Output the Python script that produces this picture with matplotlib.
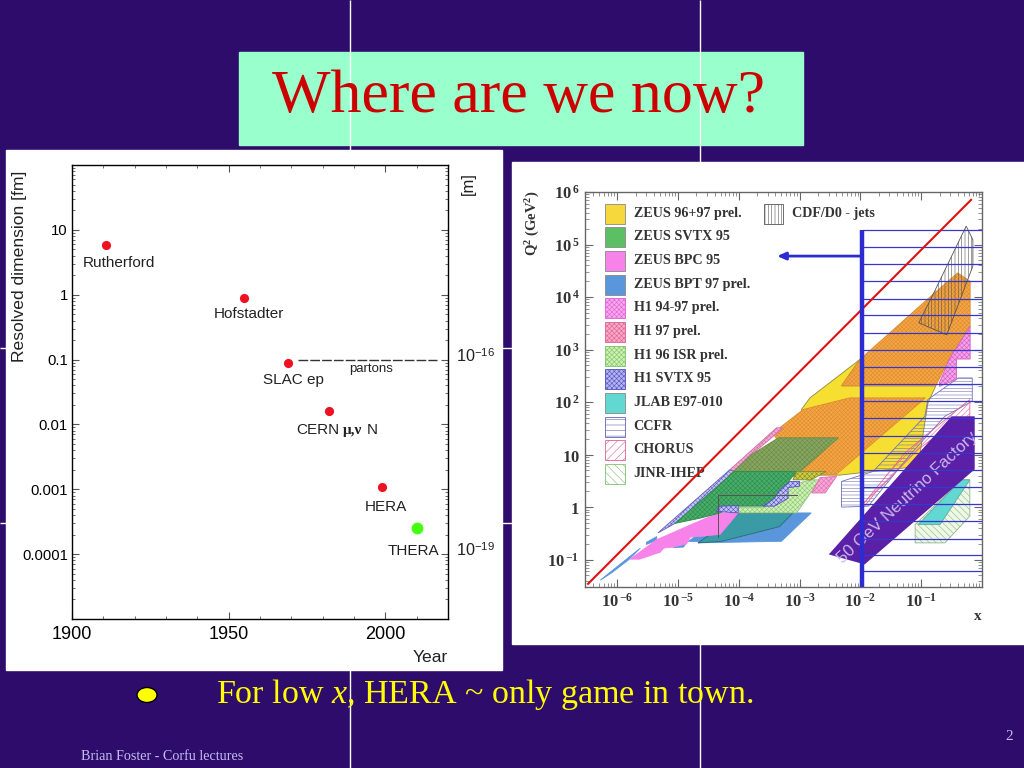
import numpy as np
from matplotlib import pyplot as plt
from matplotlib.patches import Rectangle, Ellipse

plt.rcParams['mathtext.fontset'] = 'custom'
plt.rcParams['mathtext.rm'] = 'Liberation Serif'
plt.rcParams['mathtext.it'] = 'Liberation Serif:italic'
plt.rcParams['mathtext.bf'] = 'Liberation Serif:bold'
plt.rcParams['hatch.linewidth'] = 0.4

# Left chart: resolved dimension against year
names = ['Rutherford', 'Hofstadter', 'SLAC ep', 'CERN', 'HERA', 'THERA']
years = [1911, 1955, 1969, 1982, 1999, 2010]
sizes_fm = [5.9, 0.9, 0.09, 0.016, 0.0011, 0.00025]
parton_years = [1972, 2016.5]
parton_size = [0.1, 0.1]
year_ticks = [1900, 1950, 2000]
fm_ticks = [0.0001, 0.001, 0.01, 0.1, 1, 10]
fm_labels = ['0.0001', '0.001', '0.01', '0.1', '1', '10']

# Right chart: kinematic regions, log10(x) and log10(Q2) of each outline
zeus9697_x = [-2.97, -2.83, -2.01, -2.31, -0.76, -0.89, -1.03, -1.25, -2.34, -2.94]
zeus9697_q = [1.86, 2.08, 2.81, 2.31, 2.31, 1.98, 0.94, 0.75, 0.61, 0.61]
orange_up_x = [-2.31, -2.01, -0.78, -0.40, -0.195, -0.195, -0.53, -0.76]
orange_up_q = [2.31, 2.81, 4.08, 4.46, 4.30, 3.44, 2.84, 2.31]
orange_low_x = [-3.44, -2.94, -2.18, -0.93, -2.40, -3.00]
orange_low_q = [1.41, 1.86, 2.08, 2.08, 0.62, 0.61]
h1strip_x = [-4.15, -3.38, -3.27, -3.79, -4.07]
h1strip_q = [0.71, 1.51, 1.51, 1.00, 0.68]
h1svtx_strip_x = [-5.33, -4.15, -4.07, -5.05]
h1svtx_strip_q = [-0.49, 0.71, 0.68, -0.31]
svtx_low_x = [-5.05, -4.07, -3.05, -3.22, -3.41, -3.57, -4.01, -4.34, -4.64]
svtx_low_q = [-0.31, 0.68, 0.68, 0.43, 0.17, 0.02, 0.02, -0.12, -0.21]
svtx_bar_x = [-3.05, -2.56, -2.81, -3.11]
svtx_bar_q = [0.68, 0.68, 0.52, 0.52]
svtx_up_x = [-3.79, -3.35, -2.36, -3.08, -4.17]
svtx_up_q = [1.00, 1.32, 1.32, 0.59, 0.59]
bpc_x = [-5.79, -5.35, -4.86, -4.34, -4.01, -4.31, -4.80, -4.86, -5.08, -5.24, -5.30, -5.63]
bpc_q = [-0.99, -0.62, -0.37, -0.11, -0.11, -0.52, -0.57, -0.70, -0.76, -0.78, -0.86, -0.99]
bpt_x = [-4.67, -3.98, -2.81, -3.30]
bpt_q = [-0.68, -0.11, -0.11, -0.65]
bpt_teal_x = [-4.67, -3.98, -3.11, -3.33, -4.28]
bpt_teal_q = [-0.68, -0.11, -0.11, -0.37, -0.65]
bpt_strip_x = [-6.28, -5.62, -5.81, -6.09]
bpt_strip_q = [-1.39, -0.78, -1.00, -1.25]
bpt_step_a_x = [-5.52, -5.35, -5.35, -5.52]
bpt_step_a_q = [-0.67, -0.56, -0.63, -0.71]
bpt_step_b_x = [-5.08, -4.86, -4.91, -5.08]
bpt_step_b_q = [-0.75, -0.68, -0.76, -0.77]
bpt_step_c_x = [-5.41, -5.24, -5.30, -5.41]
bpt_step_c_q = [-0.84, -0.78, -0.86, -0.87]
bpt_step_d_x = [-4.83, -4.72, -4.34, -4.42]
bpt_step_d_q = [-0.65, -0.56, -0.56, -0.67]
isr_x = [-4.01, -3.57, -3.22, -2.81, -2.67, -3.05, -4.01]
isr_q = [0.00, 0.00, 0.40, 0.52, 0.52, -0.11, -0.11]
h197_x = [-2.80, -2.58, -2.39, -2.67]
h197_q = [0.27, 0.27, 0.59, 0.56]
h1svtx_a_x = [-4.37, -4.31, -4.01, -4.01]
h1svtx_a_q = [-0.08, 0.02, 0.03, -0.11]
h1svtx_b_x = [-3.60, -3.41, -3.35, -3.22, -3.16, -3.00, -3.00, -3.19, -3.19, -3.41]
h1svtx_b_q = [0.02, 0.17, 0.30, 0.43, 0.49, 0.49, 0.40, 0.37, 0.17, 0.02]
box_x = [-4.34, -4.34, -4.34, -3.05]
box_q = [-0.56, 0.24, 0.24, 0.24]
ccfr_x = [-2.31, -1.79, -0.94, -0.89, -0.39, -0.16, -0.16, -0.61, -1.16, -1.87, -2.31]
ccfr_q = [0.49, 0.68, 1.73, 2.05, 2.46, 2.46, 2.02, 1.73, 1.03, 0.02, 0.00]
chorus_x = [-1.98, -1.27, -0.94, -0.20, -0.20, -0.61, -1.05, -1.76, -1.93]
chorus_q = [0.02, 1.03, 1.35, 2.05, 1.73, 1.48, 1.10, 0.27, 0.02]
h1right_x = [-0.70, -0.53, -0.195, -0.195, -0.42, -0.42, -0.70]
h1right_q = [2.37, 2.84, 3.44, 2.82, 2.82, 2.43, 2.30]
jlab_x = [-1.05, -0.34, -0.20, -0.69]
jlab_q = [-0.33, 0.52, 0.52, -0.33]
jinr_x = [-1.10, -0.34, -0.20, -0.20, -0.61, -1.10]
jinr_q = [-0.33, 0.52, 0.52, -0.17, -0.68, -0.68]
cdf_x = [-1.04, -0.78, -0.26, -0.15, -0.15, -0.58]
cdf_q = [3.51, 4.11, 5.35, 5.09, 4.59, 3.28]
factory_x = [-2.52, -0.50, -0.12, -0.12, -1.93]
factory_q = [-0.90, 1.73, 1.73, 0.72, -1.09]
limit_x = [-6.48, -0.18]
limit_q = [-1.46, 5.85]
cut_x = -1.98
cut_q = [-1.54, 5.27]
scan_q = [5.27, 4.95, 4.62, 4.30, 3.97, 3.65, 3.32, 3.00, 2.67, 2.34, 2.02,
          1.69, 1.36, 1.03, 0.71, 0.38, 0.06, -0.27, -0.60, -0.92, -1.22]
arrow_x = [-1.98, -3.37]
arrow_q = [4.78, 4.78]

x_ticks = [-6, -5, -4, -3, -2, -1]
q_ticks = [-1, 0, 1, 2, 3, 4, 5, 6]
q_labels = [r'$\mathbf{10^{\,\mathrm{-}1}}$', r'$\mathbf{1}$', r'$\mathbf{10}$', r'$\mathbf{10^{\,2}}$',
            r'$\mathbf{10^{\,3}}$', r'$\mathbf{10^{\,4}}$', r'$\mathbf{10^{\,5}}$', r'$\mathbf{10^{\,6}}$']
x_labels = [r'$\mathbf{10^{\,\mathrm{-}6}}$', r'$\mathbf{10^{\,\mathrm{-}5}}$', r'$\mathbf{10^{\,\mathrm{-}4}}$',
            r'$\mathbf{10^{\,\mathrm{-}3}}$', r'$\mathbf{10^{\,\mathrm{-}2}}$', r'$\mathbf{10^{\,\mathrm{-}1}}$']

legend_names = ['ZEUS 96+97 prel.', 'ZEUS SVTX 95', 'ZEUS BPC 95', 'ZEUS BPT 97 prel.',
                'H1 94-97 prel.', 'H1 97 prel.', 'H1 96 ISR prel.', 'H1 SVTX 95',
                'JLAB E97-010', 'CCFR', 'CHORUS', 'JINR-IHEP']
legend_faces = ['#f6d83c', '#5cbf63', '#f682ea', '#5a96dc', '#f8a8f0', '#f8a8c8',
                '#cdf2ae', '#b4b4f2', '#62d8d2', 'white', 'white', 'white']
legend_edges = ['#888888', '#888888', '#888888', '#888888', '#e060d0', '#e06090',
                '#80c070', '#5050c0', '#888888', '#6060b0', '#e06090', '#80c070']
legend_hatch = [None, None, None, None, 'xxxxxxx', 'xxxxxxx', 'xxxxxxx', 'xxxxxxx',
                None, '---', '////', '\\\\\\\\']

W, H = 1024, 768
fig = plt.figure(figsize=(W / 100, H / 100), dpi=100, facecolor='#2e0c6c')


def axes_px(left, top, right, bottom):
    return fig.add_axes([left / W, 1 - bottom / H, (right - left) / W, (bottom - top) / H])


# Slide background in pixel coordinates
back = axes_px(0, 0, W, H)
back.set_xlim(0, W)
back.set_ylim(H, 0)
back.axis('off')
back.vlines([349.5, 699.5], 0, H, color='white', lw=1)
back.hlines([348, 522.5], 0, W, color='white', lw=1)
back.add_patch(Rectangle((239, 52), 564, 93, color='#99ffcc'))
back.add_patch(Rectangle((6, 150), 496, 520, color='white'))
back.add_patch(Rectangle((512, 162), 512, 482, color='white'))
back.text(518, 97, 'Where are we now?', color='#cc0000', family='Liberation Serif',
          fontsize=44.6, ha='center', va='center')
back.add_patch(Ellipse((147, 695), 20, 15, fc='#ffff00', ec='black', lw=1))
back.text(216, 694, r'For low $\mathit{x}$, HERA ~ only game in town.', color='#ffff00',
          family='Liberation Serif', fontsize=24.5, ha='left', va='center')
back.text(81, 757, 'Brian Foster - Corfu lectures', color='#c4bcf0',
          family='Liberation Serif', fontsize=10.2, ha='left', va='center')
back.text(1009, 736, '2', color='#c4bcf0', family='Liberation Serif', fontsize=11,
          ha='center', va='center')

# Left chart
ax1 = axes_px(72, 165, 448, 619)
ax1.set_xlim(1900, 2020)
ax1.set_yscale('log')
ax1.set_ylim(1e-5, 100)
ax1.plot(years[:5], sizes_fm[:5], 'o', color='#ee1122', ms=6.6, mec='none')
ax1.plot(years[5:], sizes_fm[5:], 'o', color='#44ff11', ms=8.5, mec='none')
ax1.plot(parton_years, parton_size, color='#333333', lw=1, dashes=(7, 1.5))
ax1.set_xticks(year_ticks)
ax1.set_xticks(np.arange(1910, 2020, 10), minor=True)
ax1.set_xticklabels(year_ticks, family='Liberation Sans', fontsize=13)
ax1.set_yticks(fm_ticks)
ax1.set_yticklabels(fm_labels, family='Liberation Sans', fontsize=10.7)
ax1.tick_params(which='both', direction='in', top=True, right=True, color='#555555')
ax1.tick_params(which='major', length=5, width=0.8)
ax1.tick_params(which='minor', length=2.5, width=0.6, labelleft=False)
ax1.tick_params(axis='x', pad=5)
ax1.tick_params(axis='y', pad=3)
for s in ax1.spines.values():
    s.set_linewidth(1)

name_px = [(83, 263), (214, 314), (263, 380), (296, 430), (365, 507), (388, 551)]
for n, p in zip(names, name_px):
    fig.text(p[0] / W, 1 - p[1] / H, n, family='Liberation Sans', fontsize=11,
             ha='left', va='center', color='#222222')
fig.text(343 / W, 1 - 430.5 / H, '\u03bc,\u03bd', family='Liberation Serif', weight='bold', fontsize=11,
         ha='left', va='center', color='#222222')
fig.text(367 / W, 1 - 430 / H, 'N', family='Liberation Sans', fontsize=11,
         ha='left', va='center', color='#222222')
fig.text(349 / W, 1 - 369 / H, 'partons', family='Liberation Sans', fontsize=9.5,
         ha='left', va='center', color='#222222')
fig.text(20 / W, 1 - 266 / H, 'Resolved dimension [fm]', family='Liberation Sans', fontsize=12.6,
         rotation=90, ha='center', va='center', color='#222222')
fig.text(468 / W, 1 - 184 / H, '[m]', family='Liberation Sans', fontsize=12,
         rotation=90, ha='center', va='center', color='#222222')
fig.text(430 / W, 1 - 657 / H, 'Year', family='Liberation Sans', fontsize=12.6,
         ha='center', va='center', color='#222222')
fig.text(456 / W, 1 - 356 / H, r'10$^{\mathregular{-}\mathregular{16}}$', family='Liberation Sans',
         fontsize=11.7, ha='left', va='center', color='#222222')
fig.text(456 / W, 1 - 550 / H, r'10$^{\mathregular{-}\mathregular{19}}$', family='Liberation Sans',
         fontsize=11.7, ha='left', va='center', color='#222222')

# Right chart
ax2 = axes_px(585, 192, 982, 587)
pix = back.transData


def region(xs, qs, face, edge='#777777', hatch=None, z=2, lw=0.6):
    ax2.fill(10.0 ** np.array(xs), 10.0 ** np.array(qs), facecolor=face, edgecolor=edge,
             hatch=hatch, lw=lw, zorder=z)


region(bpt_strip_x, bpt_strip_q, '#5a96dc', '#5a96dc')
region(bpt_step_a_x, bpt_step_a_q, '#5a96dc', '#5a96dc')
region(bpt_step_b_x, bpt_step_b_q, '#5a96dc', '#5a96dc')
region(bpt_step_c_x, bpt_step_c_q, '#5a96dc', '#5a96dc')
region(bpt_step_d_x, bpt_step_d_q, '#5a96dc', '#5a96dc')
region(bpt_x, bpt_q, '#5a96dc', '#5a96dc')
region(bpt_teal_x, bpt_teal_q, '#3a9aa6', '#2c6a70')
region(bpc_x, bpc_q, '#f682ea', '#f682ea')
region(jinr_x, jinr_q, '#eef9e4', '#90b090', '\\\\\\\\\\')
region(jlab_x, jlab_q, '#62d8d2', '#62a8a2')
region(zeus9697_x, zeus9697_q, '#f6df30', '#8a8a40')
region(orange_low_x, orange_low_q, '#f6a640', '#dc8c34', 'xxxxxxxx')
region(orange_up_x, orange_up_q, '#f6a640', '#dc8c34', 'xxxxxxxx')
region(h1strip_x, h1strip_q, '#f4a8d8', '#d070a0', 'xxxxxxx')
region(h1svtx_strip_x, h1svtx_strip_q, '#c4c4f2', '#6060c0', 'xxxxxxx')
region(isr_x, isr_q, '#cdf2ae', '#90c080', 'xxxxxxx')
region(h197_x, h197_q, '#f8a8d8', '#e070b0', 'xxxxxxx')
region(svtx_up_x, svtx_up_q, '#86a660', '#6a8a48', 'xxxxxxx')
region(svtx_low_x, svtx_low_q, '#46ae66', '#2f8a50', 'xxxxxxx')
region(svtx_bar_x, svtx_bar_q, '#c8d040', '#888830', 'xxxxxxx')
region(h1svtx_a_x, h1svtx_a_q, '#c4c4f2', '#5050c0', 'xxxxxxx')
region(h1svtx_b_x, h1svtx_b_q, '#c4c4f2', '#5050c0', 'xxxxxxx')
region(ccfr_x, ccfr_q, 'none', '#7070b8', '-----')
region(chorus_x, chorus_q, 'none', '#e060a0', '//////')
region(h1right_x, h1right_q, '#f8a0ec', '#d060c0', 'xxxxxxx')
region(cdf_x, cdf_q, 'none', '#555555', '|||||')
region(factory_x, factory_q, '#5a20a8', 'none', z=4)
ax2.plot(10.0 ** np.array(box_x), 10.0 ** np.array(box_q), color='#555555', lw=0.7, zorder=3)

ax2.text(907, 497, '50 GeV Neutrino Factory', transform=pix, rotation=43, color='#c8b8ec',
         family='Liberation Sans', fontsize=12, ha='center', va='center', zorder=5,
         rotation_mode='anchor')

ax2.plot(10.0 ** np.array(limit_x), 10.0 ** np.array(limit_q), color='#e01010', lw=1.5, zorder=7)
ax2.hlines(10.0 ** np.array(scan_q), 10.0 ** cut_x, 1, color='#3838c8', lw=0.9, zorder=6)
ax2.plot([10.0 ** cut_x] * 2, 10.0 ** np.array(cut_q), color='#2c2cd0', lw=3.2, zorder=7,
         solid_capstyle='butt')
ax2.annotate('', xy=(10.0 ** arrow_x[1], 10.0 ** arrow_q[1]),
             xytext=(10.0 ** arrow_x[0], 10.0 ** arrow_q[0]), zorder=7,
             arrowprops=dict(arrowstyle='-|>,head_length=0.5,head_width=0.22', color='#2c2cd0',
                             lw=2, shrinkA=0, shrinkB=0))

# Legend keys, in pixel coordinates under the lines
for i in range(len(legend_names)):
    y = 203.5 + i * 23.68
    ax2.add_patch(Rectangle((605, y), 20, 20, transform=pix, facecolor=legend_faces[i],
                            edgecolor=legend_edges[i], hatch=legend_hatch[i], lw=0.6, zorder=3))
    ax2.text(633.5, y + 9.5, legend_names[i], transform=pix, family='Liberation Serif',
             weight='bold', fontsize=10.2, color='#333333', ha='left', va='center', zorder=3)
ax2.add_patch(Rectangle((764, 203.5), 19, 20, transform=pix, facecolor='white',
                        edgecolor='#555555', hatch='|||||', lw=0.6, zorder=3))
ax2.text(791.5, 213, 'CDF/D0 - jets', transform=pix, family='Liberation Serif',
         weight='bold', fontsize=10.2, color='#333333', ha='left', va='center', zorder=3)

ax2.set_xscale('log')
ax2.set_yscale('log')
ax2.set_xlim(10 ** -6.53, 1)
ax2.set_ylim(10 ** -1.52, 1e6)
ax2.set_xticks([10.0 ** t for t in x_ticks])
ax2.set_xticklabels(x_labels, fontsize=12, color='#333333')
ax2.set_yticks([10.0 ** t for t in q_ticks])
ax2.set_yticklabels(q_labels, fontsize=12, color='#333333')
ax2.xaxis.set_minor_locator(plt.LogLocator(base=10, subs=np.arange(2, 10), numticks=12))
ax2.yaxis.set_minor_locator(plt.LogLocator(base=10, subs=np.arange(2, 10), numticks=12))
ax2.tick_params(which='both', direction='in', top=True, right=True, color='#666666')
ax2.tick_params(which='major', length=6, width=0.8, pad=4)
ax2.tick_params(which='minor', length=3, width=0.5, labelbottom=False, labelleft=False)
for s in ax2.spines.values():
    s.set_color('#666666')
    s.set_linewidth(1)

fig.text(532.5 / W, 1 - 223 / H, r'$\mathbf{Q^2\ (GeV^2)}$', fontsize=10.5, rotation=90,
         color='#333333', ha='center', va='center')
fig.text(978 / W, 1 - 615 / H, r'$\mathbf{x}$', fontsize=11, color='#333333',
         ha='center', va='center')

fig.savefig('out.png', dpi=100, facecolor=fig.get_facecolor())
